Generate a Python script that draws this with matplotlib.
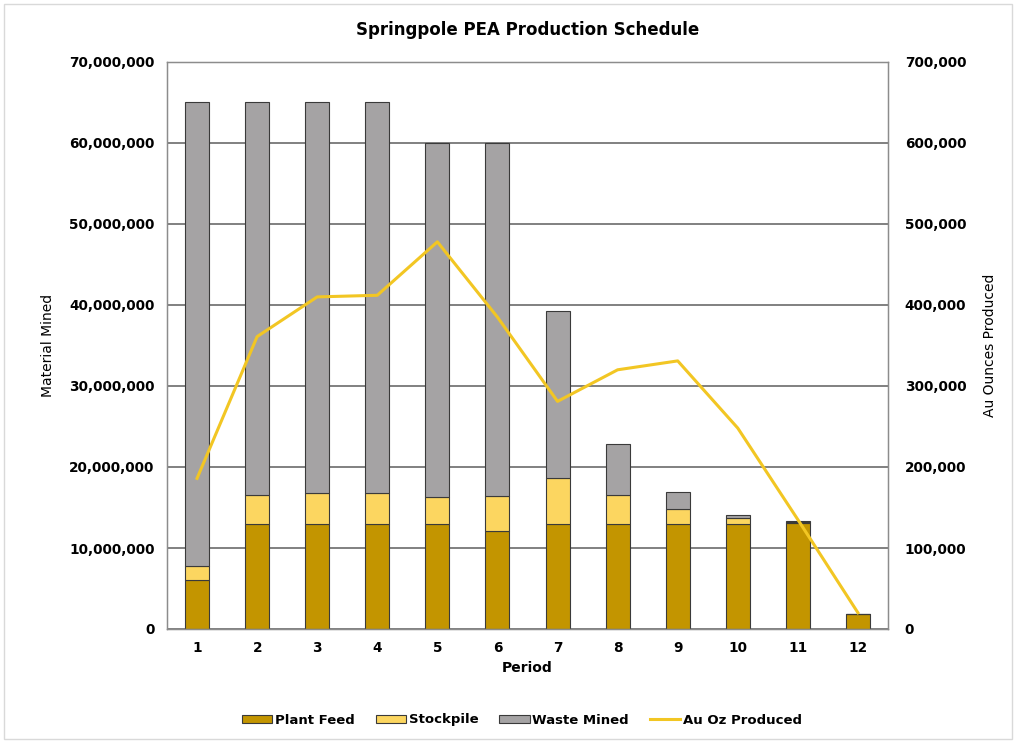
import matplotlib.pyplot as plt
import numpy as np
from matplotlib.ticker import FuncFormatter

# production schedule values
periods = [1, 2, 3, 4, 5, 6, 7, 8, 9, 10, 11, 12]
plant_feed = [6.0e6, 13.0e6, 13.0e6, 13.0e6, 13.0e6, 12.1e6, 13.0e6, 13.0e6, 13.0e6, 13.0e6, 13.1e6, 1.9e6]
stockpile = [1.8e6, 3.5e6, 3.8e6, 3.8e6, 3.25e6, 4.3e6, 5.6e6, 3.5e6, 1.85e6, 0.7e6, 0.1e6, 0.0]
waste_mined = [57.2e6, 48.5e6, 48.2e6, 48.2e6, 43.75e6, 43.6e6, 20.6e6, 6.4e6, 2.05e6, 0.4e6, 0.1e6, 0.0]
au_oz = [186000, 361000, 410000, 412000, 478000, 385000, 281000, 320000, 331000, 248000, 135000, 20000]

fig = plt.figure(figsize=(10.16, 7.42), dpi=100)
ax = fig.add_axes([167 / 1016, 1 - 629 / 742, 721 / 1016, 567 / 742])

feed_col = "#C39500"
stock_col = "#FCD660"
waste_col = "#A5A3A4"
line_col = "#F2C623"
edge = "#3a3a3a"

x = np.array(periods)
pf = np.array(plant_feed)
sp = np.array(stockpile)
wm = np.array(waste_mined)

ax.set_axisbelow(True)
ax.bar(x, pf, width=0.4, color=feed_col, edgecolor=edge, linewidth=0.8, label="Plant Feed")
ax.bar(x, sp, width=0.4, bottom=pf, color=stock_col, edgecolor=edge, linewidth=0.8, label="Stockpile")
ax.bar(x, wm, width=0.4, bottom=pf + sp, color=waste_col, edgecolor=edge, linewidth=0.8, label="Waste Mined")

ax.set_xlim(0.5, 12.5)
ax.set_ylim(0, 70e6)
ax.set_yticks(np.arange(0, 70e6 + 1, 10e6))
ax.set_xticks(periods)
ax.yaxis.set_major_formatter(FuncFormatter(lambda v, p: f"{int(v):,}"))
ax.grid(axis="y", color="#5e5e5e", linewidth=1.1)
ax.tick_params(axis="both", length=0, labelsize=9.8, pad=9)
for lbl in ax.get_xticklabels() + ax.get_yticklabels():
    lbl.set_fontweight("bold")
for s in ax.spines.values():
    s.set_color("#8c8c8c")
    s.set_linewidth(1.0)

ax.set_xlabel("Period", fontsize=10, fontweight="bold", labelpad=4)
ax.set_ylabel("Material Mined", fontsize=10, labelpad=10)

ax2 = ax.twinx()
ax2.plot(x, au_oz, color=line_col, linewidth=2.2, label="Au Oz Produced")
ax2.set_ylim(0, 700000)
ax2.set_yticks(np.arange(0, 700001, 100000))
ax2.yaxis.set_major_formatter(FuncFormatter(lambda v, p: f"{int(v):,}"))
ax2.tick_params(axis="y", length=0, labelsize=9.8, pad=12)
for lbl in ax2.get_yticklabels():
    lbl.set_fontweight("bold")
for s in ax2.spines.values():
    s.set_color("#8c8c8c")
ax2.set_ylabel("Au Ounces Produced", fontsize=10, labelpad=12)

fig.suptitle("Springpole PEA Production Schedule", x=(167 + 888) / 2 / 1016, y=1 - 30 / 742,
             fontsize=12, fontweight="bold", va="center")

h1, l1 = ax.get_legend_handles_labels()
h2, l2 = ax2.get_legend_handles_labels()
leg = fig.legend(h1 + h2, l1 + l2, loc="center", bbox_to_anchor=(522 / 1016, 1 - 720 / 742),
                 ncol=4, frameon=False, fontsize=9.5, handlelength=2.3, handleheight=0.6,
                 handletextpad=0.2, columnspacing=1.6)
for t in leg.get_texts():
    t.set_fontweight("bold")

fig.patches.append(plt.Rectangle((0.004, 0.004), 0.992, 0.99, transform=fig.transFigure,
                                 fill=False, edgecolor="#d9d9d9", linewidth=1.0))

fig.savefig("out.png", dpi=100)
